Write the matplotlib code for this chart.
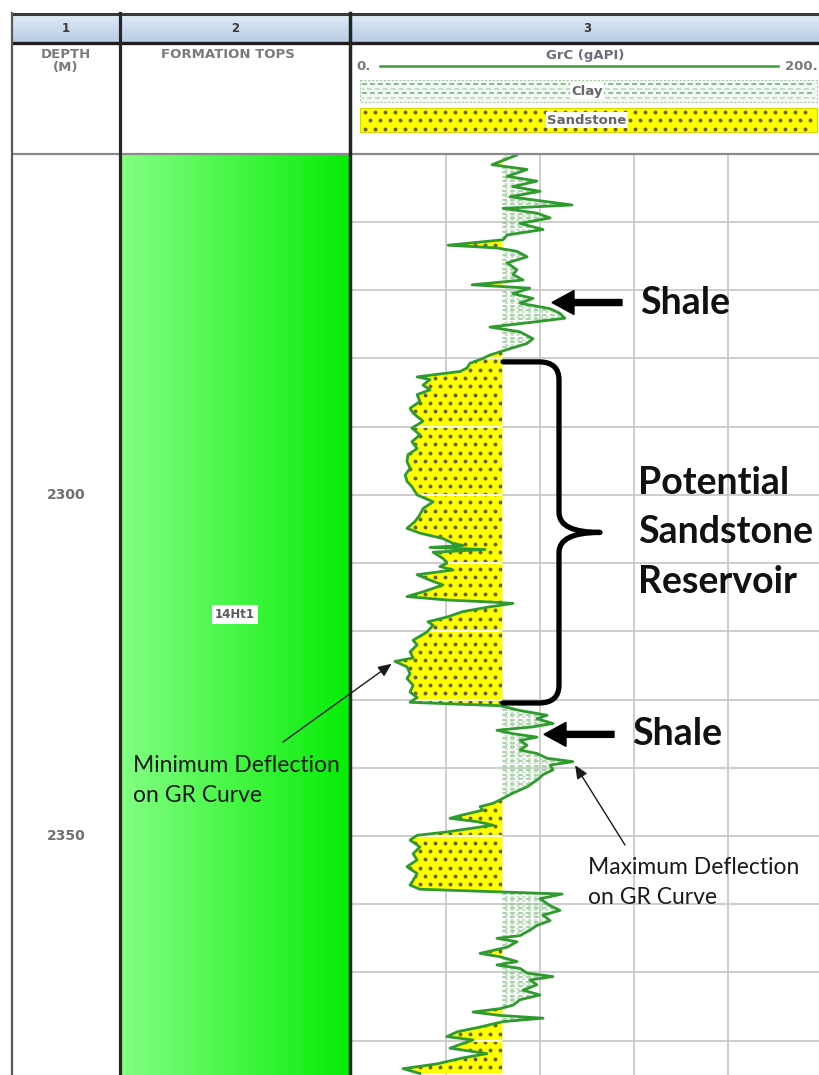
import numpy as np
import matplotlib
matplotlib.use("Agg")
import matplotlib.pyplot as plt
from matplotlib.path import Path
from matplotlib.patches import Rectangle, PathPatch, FancyArrow
from matplotlib.collections import LineCollection

# ---------------------------------------------------------------- log data
# Gamma-ray log: measured depth (m) and GR reading (gAPI)
depth_m = np.array([
    2250.2, 2251.6, 2252.3, 2253.3, 2254.0, 2254.8, 2255.5, 2256.3, 2257.5, 2258.0,
    2258.7, 2259.4, 2260.2, 2261.1, 2261.9, 2262.6, 2263.4, 2263.8, 2264.3, 2265.1,
    2266.0, 2267.0, 2267.7, 2268.5, 2269.2, 2269.7, 2270.5, 2271.2, 2271.9, 2272.7,
    2273.4, 2274.1, 2274.9, 2275.4, 2276.1, 2277.1, 2277.8, 2278.7, 2279.5, 2280.0,
    2280.7, 2281.4, 2281.9, 2282.7, 2283.1, 2283.9, 2284.6, 2285.3, 2286.3, 2287.3,
    2288.0, 2288.5, 2289.2, 2290.2, 2291.2, 2292.2, 2293.2, 2294.1, 2295.1, 2296.1,
    2297.1, 2298.0, 2298.8, 2300.0, 2301.0, 2302.0, 2302.9, 2303.9, 2304.9, 2305.6,
    2306.4, 2307.1, 2307.4, 2307.7, 2308.0, 2308.4, 2309.3, 2310.0, 2310.5, 2311.0,
    2311.7, 2312.5, 2313.2, 2314.2, 2314.9, 2315.4, 2315.7, 2315.9, 2316.4, 2317.1,
    2317.9, 2318.6, 2319.1, 2320.1, 2321.3, 2322.0, 2323.0, 2323.9, 2324.4, 2325.2,
    2326.2, 2326.9, 2327.9, 2328.9, 2329.7, 2330.4, 2330.9, 2331.6, 2332.3, 2332.8,
    2333.5, 2334.0, 2334.5, 2335.0, 2335.5, 2336.0, 2336.7, 2337.4, 2337.9, 2338.6,
    2339.1, 2339.6, 2340.3, 2341.0, 2341.8, 2342.8, 2343.7, 2344.7, 2345.2, 2345.7,
    2346.2, 2346.9, 2347.4, 2347.9, 2348.4, 2348.9, 2349.4, 2349.9, 2350.6, 2351.6,
    2352.6, 2353.5, 2354.5, 2355.5, 2356.5, 2357.2, 2357.8, 2358.2, 2358.5, 2359.2,
    2360.2, 2360.9, 2361.6, 2362.4, 2363.1, 2363.8, 2364.6, 2365.0, 2365.5, 2366.3,
    2367.2, 2367.7, 2368.4, 2368.9, 2369.4, 2370.1, 2370.6, 2371.1, 2371.8, 2372.6,
    2373.3, 2374.0, 2374.8, 2375.3, 2375.8, 2376.3, 2376.7, 2377.2, 2378.0, 2378.7,
    2379.4, 2379.9, 2380.4, 2381.1, 2381.9, 2382.6, 2383.4, 2384.1, 2384.8,
])
gr_api = np.array([
    70.0, 59.6, 74.5, 66.0, 78.7, 68.5, 80.0, 67.2, 93.6, 64.3,
    78.7, 84.3, 71.5, 81.3, 66.0, 64.3, 40.9, 61.7, 70.2, 74.5,
    66.0, 70.2, 68.5, 72.8, 51.1, 75.7, 68.5, 77.0, 71.5, 84.3,
    88.5, 90.6, 71.5, 58.7, 71.5, 77.0, 74.5, 66.0, 58.7, 55.7,
    50.2, 48.9, 46.0, 27.7, 33.2, 30.2, 33.2, 27.7, 28.9, 24.7,
    26.0, 27.7, 30.2, 25.5, 28.9, 25.5, 27.7, 23.8, 23.4, 24.7,
    22.6, 23.4, 25.5, 27.7, 34.5, 30.2, 28.9, 26.8, 23.4, 28.9,
    38.7, 43.0, 47.2, 33.2, 56.6, 34.5, 38.7, 40.4, 37.4, 43.0,
    27.7, 33.2, 38.7, 30.2, 23.4, 40.4, 58.7, 68.5, 58.7, 47.2,
    40.4, 32.3, 34.5, 31.9, 26.0, 27.7, 24.7, 26.0, 18.3, 23.4,
    24.7, 23.4, 26.0, 24.7, 27.7, 24.7, 63.0, 71.5, 83.0, 78.7,
    85.5, 77.0, 61.7, 68.5, 78.7, 71.5, 74.5, 71.5, 78.7, 83.0,
    94.0, 84.3, 85.5, 81.3, 78.7, 74.5, 68.5, 63.0, 60.0, 54.5,
    55.7, 47.2, 41.7, 53.2, 60.0, 50.2, 40.4, 27.7, 24.7, 28.9,
    26.0, 27.7, 23.4, 27.7, 26.0, 24.7, 28.9, 63.0, 89.4, 80.0,
    84.3, 88.5, 81.3, 84.3, 78.7, 75.7, 71.5, 61.7, 70.2, 66.0,
    54.5, 63.0, 70.2, 61.7, 71.5, 74.5, 85.5, 75.7, 78.7, 72.8,
    80.0, 71.5, 68.5, 63.0, 51.5, 63.0, 81.3, 64.3, 54.5, 44.7,
    40.4, 51.5, 47.2, 41.7, 57.4, 46.0, 36.2, 21.7, 28.9,
])

GR_RANGE = (0, 200)
GR_GRID_STEP = 40
SAND_CUTOFF = 64
DEPTH_RANGE = (2250, 2385)
DEPTH_GRID_STEP = 10
DEPTH_LABELS = [2300, 2350]
FORMATION = ("14Ht1", 2250, 2385)
TRACK_NUMBERS = ["1", "2", "3"]
COLUMN_HEADERS = ["DEPTH\n(M)", "FORMATION TOPS"]
CURVE_TITLE = "GrC (gAPI)"
LITHOLOGY_NAMES = ["Clay", "Sandstone"]
SHALE_DEPTHS = [2271.8, 2335.1]
RESERVOIR_INTERVAL = (2280.5, 2330.5)
RESERVOIR_LINES = ["Potential", "Sandstone", "Reservoir"]

# ---------------------------------------------------------------- styling
W, H = 820, 1075
TOP_PX, BOT_PX = 153.8, 1074.8
TRACK_X0, TRACK_X1 = 352, 822
CURVE_GREEN = "#2f9b2f"
SAND_YELLOW = "#ffff00"
SAND_DOT = "#66641e"
CLAY_DASH = "#8fc68f"
GRID_GREY = "#c9c9c9"
HEADER_GREY = "#7a7a7a"
ANNOT_FONT = ["Lato", "DejaVu Sans"]
LOG_FONT = ["DejaVu Sans"]

fig = plt.figure(figsize=(W / 100, H / 100), dpi=100)


def box(x0, y0, x1, y1):
    return [x0 / W, 1 - y1 / H, (x1 - x0) / W, (y1 - y0) / H]


# ---------------------------------------------------------------- GR track
ax = fig.add_axes(box(TRACK_X0, TOP_PX, TRACK_X1, BOT_PX))
ax.set_xlim(*GR_RANGE)
ax.set_ylim(DEPTH_RANGE[1], DEPTH_RANGE[0])
ax.axis("off")

for g in np.arange(GR_RANGE[0] + GR_GRID_STEP, GR_RANGE[1], GR_GRID_STEP):
    ax.axvline(g, color=GRID_GREY, lw=1.3, zorder=0)
grid_depths = np.arange(DEPTH_RANGE[0] + DEPTH_GRID_STEP, DEPTH_RANGE[1], DEPTH_GRID_STEP)
for d in grid_depths:
    ax.axhline(d, color=GRID_GREY, lw=1.3, zorder=0)

sand = ax.fill_betweenx(depth_m, gr_api, SAND_CUTOFF, where=gr_api <= SAND_CUTOFF,
                        interpolate=True, facecolor=SAND_YELLOW, edgecolor="none", zorder=1)
clay = ax.fill_betweenx(depth_m, gr_api, SAND_CUTOFF, where=gr_api >= SAND_CUTOFF,
                        interpolate=True, facecolor="none", edgecolor="none", zorder=1)
sand_path = Path.make_compound_path(*sand.get_paths())
clay_path = Path.make_compound_path(*clay.get_paths())

# sandstone symbol: staggered dots
px_per_api = (TRACK_X1 - TRACK_X0) / (GR_RANGE[1] - GR_RANGE[0])
px_per_m = (BOT_PX - TOP_PX) / (DEPTH_RANGE[1] - DEPTH_RANGE[0])
dot_dx, dot_dy = 10 / px_per_api, 8.3 / px_per_m
dot_x, dot_y = [], []
for i, d in enumerate(np.arange(DEPTH_RANGE[0], DEPTH_RANGE[1], dot_dy)):
    xs = np.arange(SAND_CUTOFF - 0.5 * dot_dx * (i % 2) - 2 / px_per_api,
                   GR_RANGE[0] - dot_dx, -dot_dx)
    dot_x.extend(xs)
    dot_y.extend([d] * len(xs))
dots = ax.scatter(dot_x, dot_y, s=8, color=SAND_DOT, linewidths=0, zorder=2)
dots.set_clip_path(sand_path, ax.transData)

seams = LineCollection([[(GR_RANGE[0], d), (SAND_CUTOFF, d)] for d in grid_depths],
                       colors="white", linewidths=1.3, zorder=2)
seams.set_clip_path(sand_path, ax.transData)
ax.add_collection(seams)

# clay symbol: rows of short dashes
dash_dy = 4.6 / px_per_m
for k, (col, pattern) in enumerate([(CLAY_DASH, (0, (3.2, 2.0))), ("#b9dcb9", (2.0, (2.2, 1.6)))]):
    rows = np.arange(DEPTH_RANGE[0] + k * dash_dy / 2, DEPTH_RANGE[1], dash_dy)
    lc = LineCollection([[(SAND_CUTOFF, d), (GR_RANGE[1], d)] for d in rows],
                        colors=col, linewidths=1.1, linestyles=[pattern], zorder=2)
    lc.set_clip_path(clay_path, ax.transData)
    ax.add_collection(lc)

ax.plot(gr_api, depth_m, color=CURVE_GREEN, lw=2.0, zorder=4, solid_joinstyle="round")

# ---------------------------------------------------------------- depth track
ax_depth = fig.add_axes(box(13, TOP_PX, 119, BOT_PX))
ax_depth.set_xlim(0, 1)
ax_depth.set_ylim(DEPTH_RANGE[1], DEPTH_RANGE[0])
ax_depth.axis("off")
for d in DEPTH_LABELS:
    ax_depth.text(0.5, d, str(d), ha="center", va="center", fontsize=10,
                  fontweight="bold", color="#707070", family=LOG_FONT)

# ---------------------------------------------------------------- formation tops
ax_form = fig.add_axes(box(121, TOP_PX, 349, BOT_PX))
ax_form.set_xlim(0, 1)
ax_form.set_ylim(DEPTH_RANGE[1], DEPTH_RANGE[0])
ax_form.axis("off")
t = np.linspace(0, 1, 256)[None, :, None]
left_c = np.array([0.52, 1.0, 0.52])[None, None, :]
right_c = np.array([0.02, 0.93, 0.02])[None, None, :]
ax_form.imshow(left_c + (right_c - left_c) * t, extent=(0, 1, FORMATION[2], FORMATION[1]),
               aspect="auto", interpolation="bilinear", zorder=0)
ax_form.set_xlim(0, 1)
ax_form.set_ylim(DEPTH_RANGE[1], DEPTH_RANGE[0])
ax_form.text(0.5, (FORMATION[1] + FORMATION[2]) / 2, FORMATION[0], ha="center", va="center",
             fontsize=8.5, fontweight="bold", color="#5a5a5a", family=LOG_FONT,
             bbox=dict(facecolor="white", edgecolor="none", pad=2.0))

# ---------------------------------------------------------------- overlay (header, frame, notes)
ov = fig.add_axes([0, 0, 1, 1], zorder=10)
ov.patch.set_alpha(0)
ov.axis("off")

grad = np.linspace(0, 1, 32)[:, None, None]
top_c = np.array([0.88, 0.92, 0.97])[None, None, :]
bot_c = np.array([0.72, 0.80, 0.90])[None, None, :]
ov.imshow(top_c + (bot_c - top_c) * grad, extent=(12, 822, 43, 14), aspect="auto",
          interpolation="bilinear", zorder=0)
ov.set_xlim(0, W)
ov.set_ylim(H, 0)

ov.plot([11, 822], [14, 14], color="#3a3a3a", lw=2.2, solid_capstyle="butt")
ov.plot([11, 822], [43, 43], color="#1e1e1e", lw=2.4, solid_capstyle="butt")
ov.plot([11, 822], [153.5, 153.5], color="#8a8a8a", lw=1.6, solid_capstyle="butt")
ov.plot([12, 12], [13, H], color="#5a5a5a", lw=1.6)
ov.plot([120, 120], [13, H], color="#262626", lw=2.3)
ov.plot([350, 350], [13, H], color="#1c2a1c", lw=2.5)

for xc, lab in zip([66, 235, 587], TRACK_NUMBERS):
    ov.text(xc, 28.5, lab, ha="center", va="center", fontsize=8.5, fontweight="bold",
            color="#3a3a3a", family=LOG_FONT)
ov.text(66, 61, COLUMN_HEADERS[0], ha="center", va="center", fontsize=9.5, fontweight="bold",
        color=HEADER_GREY, family=LOG_FONT, linespacing=1.0)
ov.text(228, 55, COLUMN_HEADERS[1], ha="center", va="center", fontsize=9.5, fontweight="bold",
        color=HEADER_GREY, family=LOG_FONT)
ov.text(585, 55, CURVE_TITLE, ha="center", va="center", fontsize=9.5, fontweight="bold",
        color="#6c6c7c", family=LOG_FONT)
ov.text(356, 67, "0.", ha="left", va="center", fontsize=9.5, fontweight="bold",
        color=HEADER_GREY, family=LOG_FONT)
ov.text(818, 67, "200.", ha="right", va="center", fontsize=9.5, fontweight="bold",
        color=HEADER_GREY, family=LOG_FONT)
ov.plot([380, 778], [66, 66], color="#3c9c3c", lw=1.8)

# lithology legend: clay
ov.add_patch(Rectangle((360, 80), 457, 22, facecolor="#f3f9f3", edgecolor="#a8c8a8",
                       lw=0.8, linestyle=(0, (2, 1.5)), zorder=1))
for k, yrow in enumerate(np.arange(84, 101, 4.5)):
    col = "#6cac6c" if k % 2 == 0 else "#b4d6b4"
    ov.add_collection(LineCollection([[(362, yrow), (815, yrow)]], colors=col, linewidths=1.1,
                                     linestyles=[(k % 2 * 2.0, (3.2, 2.0))], zorder=2))
ov.text(587, 91, LITHOLOGY_NAMES[0], ha="center", va="center", fontsize=9.5, fontweight="bold",
        color="#666666", family=LOG_FONT, zorder=3,
        bbox=dict(facecolor="white", edgecolor="none", pad=1.0))

# lithology legend: sandstone
ov.add_patch(Rectangle((360, 108), 457, 24, facecolor=SAND_YELLOW, edgecolor="#d8d800",
                       lw=0.8, zorder=1))
lx, ly = [], []
for k, yrow in enumerate(np.arange(112, 131, 8.3)):
    xs = np.arange(365 + 5 * (k % 2), 815, 10)
    lx.extend(xs)
    ly.extend([yrow] * len(xs))
ov.scatter(lx, ly, s=8, color=SAND_DOT, linewidths=0, zorder=2)
ov.text(587, 120, LITHOLOGY_NAMES[1], ha="center", va="center", fontsize=9.5, fontweight="bold",
        color="#666666", family=LOG_FONT, zorder=3,
        bbox=dict(facecolor="white", edgecolor="none", pad=1.0))

# ---------------------------------------------------------------- interpretation notes
def to_px(g, d):
    return ov.transData.inverted().transform(ax.transData.transform((g, d)))


for d, x_text in zip(SHALE_DEPTHS, [640, 632]):
    _, yp = to_px(0, d)
    ov.add_patch(FancyArrow(x_text - 18, yp, -70, 0, width=6, head_width=24, head_length=22,
                            length_includes_head=True, color="black", zorder=5))
    ov.text(x_text, yp, "Shale", ha="left", va="center", fontsize=27, fontweight="bold",
            family=ANNOT_FONT, color="#111111")

_, y_top = to_px(0, RESERVOIR_INTERVAL[0])
_, y_bot = to_px(0, RESERVOIR_INTERVAL[1])
x_open, x_spine, x_tip = 503, 559, 600
y_mid = (y_top + y_bot) / 2
brace = Path(
    [(x_open, y_top), (x_spine - 20, y_top), (x_spine, y_top), (x_spine, y_top + 18),
     (x_spine, y_mid - 20), (x_spine, y_mid), (x_tip, y_mid),
     (x_spine, y_mid), (x_spine, y_mid + 20),
     (x_spine, y_bot - 18), (x_spine, y_bot), (x_spine - 20, y_bot), (x_open, y_bot)],
    [Path.MOVETO, Path.LINETO, Path.CURVE3, Path.CURVE3,
     Path.LINETO, Path.CURVE3, Path.CURVE3,
     Path.CURVE3, Path.CURVE3,
     Path.LINETO, Path.CURVE3, Path.CURVE3, Path.LINETO])
ov.add_patch(PathPatch(brace, facecolor="none", edgecolor="black", lw=3.8,
                       capstyle="round", joinstyle="round", zorder=5))
for k, line in enumerate(RESERVOIR_LINES):
    ov.text(638, y_mid + (k - 1) * 49.5, line, ha="left", va="center", fontsize=27,
            fontweight="bold", family=ANNOT_FONT, color="#111111")

res = (depth_m >= RESERVOIR_INTERVAL[0]) & (depth_m <= RESERVOIR_INTERVAL[1])
i_min = np.flatnonzero(res)[np.argmin(gr_api[res])]
shale2 = (depth_m > RESERVOIR_INTERVAL[1]) & (depth_m < 2346)
i_max = np.flatnonzero(shale2)[np.argmax(gr_api[shale2])]

thin_arrow = dict(arrowstyle="-|>,head_length=0.8,head_width=0.35", color="#1a1a1a",
                  lw=1.0, shrinkA=0, shrinkB=3)
ov.annotate("", xy=(gr_api[i_min], depth_m[i_min]), xycoords=ax.transData,
            xytext=(283, 742), textcoords=ov.transData, arrowprops=thin_arrow, zorder=6)
for k, line in enumerate(["Minimum Deflection", "on GR Curve"]):
    ov.text(133, 765 + 30 * k, line, ha="left", va="center", fontsize=16.5,
            family=ANNOT_FONT, color="#1a1a1a")
ov.annotate("", xy=(gr_api[i_max], depth_m[i_max]), xycoords=ax.transData,
            xytext=(625, 845), textcoords=ov.transData, arrowprops=thin_arrow, zorder=6)
for k, line in enumerate(["Maximum Deflection", "on GR Curve"]):
    ov.text(588, 868 + 29 * k, line, ha="left", va="center", fontsize=16.5,
            family=ANNOT_FONT, color="#1a1a1a")

fig.savefig("out.png", dpi=100)
